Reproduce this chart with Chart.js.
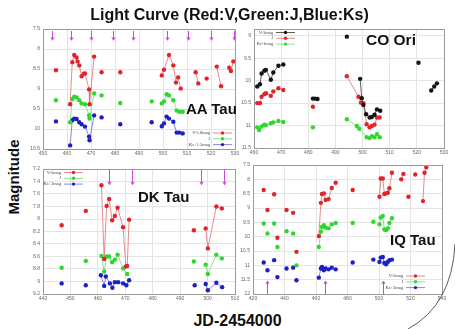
<!DOCTYPE html>
<html>
<head>
<meta charset="utf-8">
<script src="https://cdn.jsdelivr.net/npm/chart.js@4.4.1/dist/chart.umd.min.js"></script>
<style>
  body { margin: 0; background: #fff; width: 455px; height: 329px; overflow: hidden; position: relative;
         font-family: "Liberation Sans", Arial, sans-serif; }
  canvas { position: absolute; }
  .lbl { position: absolute; font-weight: bold; color: #111; white-space: nowrap; z-index: 2; }
</style>
</head>
<body>
<div class="lbl" style="left:2px;width:455px;top:6px;text-align:center;font-size:16px">Light Curve (Red:V,Green:J,Blue:Ks)</div>
<div class="lbl" style="left:13px;top:177px;font-size:15px;transform:translate(-50%,-50%) rotate(-90deg)">Magnitude</div>
<div class="lbl" style="left:0;width:475px;top:312px;text-align:center;font-size:16px">JD-2454000</div>
<div class="lbl" style="left:186px;top:100px;font-size:15px">AA Tau</div>
<div class="lbl" style="left:366px;top:31px;font-size:15.5px">CO Ori</div>
<div class="lbl" style="left:138px;top:188px;font-size:15px">DK Tau</div>
<div class="lbl" style="left:390px;top:231px;font-size:15px">IQ Tau</div>
<svg width="455" height="329" style="position:absolute;left:0;top:0;pointer-events:none;z-index:2">
  <path d="M 455 244 Q 452 305 408 329" fill="none" stroke="#333" stroke-width="0.8"/>
</svg>
<script>
// ---- AA Tau ----
const aaDaysV = [455.4, 461.3, 462.2, 463.0, 464.0, 464.4, 465.1, 466.1, 467.0, 467.5, 469.2, 469.4, 471.3, 474.4, 482.2,
                 499.5, 500.4, 502.5, 504.3, 505.4, 506.3, 507.4, 513.6, 514.7, 518.2, 522.4, 524.2, 527.6, 528.3, 529.3];
const aaV = [8.53, 9.38, 8.33, 8.15, 8.21, 8.31, 8.41, 8.68, 8.62, 8.61, 9.01, 9.38, 8.19, 8.58, 8.58,
             8.66, 8.52, 8.15, 8.41, 8.84, 8.71, 8.99, 8.58, 8.86, 8.74, 8.44, 8.93, 8.47, 8.55, 8.31];
const aaDaysJK = [455.4, 461.3, 462.2, 463.0, 464.0, 465.1, 466.1, 467.5, 469.2, 469.4, 471.3, 474.4, 482.2,
                  495.3, 499.5, 500.4, 501.5, 502.5, 504.3, 505.7, 506.8, 508.2];
const aaJ = [9.28, 9.83, 9.25, 9.19, 9.21, 9.28, 9.36, 9.38, 9.66, 9.74, 9.11, 9.16, 9.35,
             9.31, 9.36, 9.31, 9.13, 9.16, 9.28, 9.54, 9.57, 9.57];
const aaK = [9.81, 10.41, 9.78, 9.74, 9.75, 9.83, 9.88, 9.94, 10.19, 10.28, 9.66, 9.71, 9.88,
             9.83, 9.93, 9.86, 9.69, 9.74, 9.82, 10.09, 10.09, 10.11];
const aaArrows = [453.6, 461.8, 470.1, 479.0, 487.7, 501.5, 510.4, 519.9, 529.6];
const aaNames = ['V-1.8mag', 'J', 'Ks+1.5mag'];

// ---- CO Ori ----
const coDaysV = [461.2, 462.2, 462.8, 463.8, 464.4, 466.2, 467.1, 469.0, 470.8, 481.7, 482.5, 483.4, 494.2,
                 499.1, 499.7, 500.3, 501.3, 502.6, 503.4, 504.4, 505.3, 506.5, 520.6, 525.3, 526.4, 527.4];
const coV = [10.13, 10.08, 9.84, 9.78, 9.76, 9.98, 9.82, 9.67, 9.64, 10.40, 10.40, 10.41, 9.02,
             9.96, 10.39, 10.54, 10.75, 10.82, 10.81, 10.76, 10.64, 10.67, 9.60, 10.22, 10.13, 10.06];
const coDaysJ = [461.2, 462.2, 462.8, 463.8, 464.4, 466.2, 467.1, 469.0, 470.8, 481.7, 494.2,
                 498.5, 499.4, 500.3, 501.5, 502.6, 503.4, 504.4, 505.3, 506.3];
const coJ = [10.50, 10.50, 10.36, 10.30, 10.28, 10.34, 10.24, 10.17, 10.21, 10.58, 9.90,
             10.36, 10.49, 10.50, 10.97, 11.04, 11.01, 10.98, 10.82, 10.82];
const coDaysK = [461.2, 461.9, 462.8, 463.8, 464.4, 466.2, 467.1, 469.0, 470.8, 481.7, 494.2,
                 497.9, 498.8, 501.5, 502.6, 503.4, 504.4, 505.3, 506.3];
const coK = [11.04, 11.10, 11.02, 10.98, 10.99, 10.95, 10.93, 10.90, 10.92, 11.04, 10.86,
             11.01, 11.07, 11.26, 11.28, 11.24, 11.26, 11.19, 11.26];
const coYTicks = [9, 9.5, 10, 10.5, 11, 11.5];
const coNames = ['V-3mag', 'J', 'Ks-1mag'];

// ---- DK Tau ----
const dkDaysV = [446.8, 455.6, 461.3, 462.3, 463.2, 464.1, 465.2, 466.2, 467.2, 469.2, 470.2, 470.7, 471.4,
                 495.0, 499.3, 500.1, 503.2, 505.2];
const dkV = [8.10, 7.87, 7.46, 8.64, 7.79, 7.68, 8.02, 7.95, 7.82, 8.13, 8.76, 8.75, 8.01,
             8.18, 8.15, 8.47, 7.80, 7.83];
const dkDaysJ = [446.8, 455.6, 461.3, 462.3, 463.2, 464.1, 465.2, 466.2, 467.2, 469.2, 470.7,
                 495.0, 499.3, 500.1, 503.2, 505.2];
const dkJ = [8.78, 8.67, 8.59, 8.84, 8.60, 8.60, 8.69, 8.65, 8.57, 8.79, 8.88,
             8.68, 8.73, 8.88, 8.57, 8.63];
const dkDaysK = [446.8, 455.6, 461.1, 462.3, 462.9, 464.4, 465.3, 466.2, 467.4, 469.2, 470.4, 471.4,
                 495.3, 499.3, 500.1, 503.2, 505.3];
const dkK = [9.03, 9.06, 8.90, 9.07, 8.92, 9.03, 9.10, 9.01, 9.01, 9.03, 9.06, 8.98,
             9.06, 9.04, 9.14, 9.02, 9.09];
const dkArrows = [464.0, 472.5, 497.5, 506.0];
const dkNames = ['V-5mag', 'J', 'Ks+3mag'];

// ---- IQ Tau ----
const iqDaysV = [426.8, 429.2, 433.4, 435.5, 441.3, 445.5, 447.6, 461.8, 463.1, 463.8, 465.0, 466.1, 468.0, 470.0, 472.5,
                 483.3, 500.3, 501.1, 502.4, 503.4, 504.5, 505.6, 506.6, 508.2, 514.1, 515.5, 518.7, 523.0, 527.9, 528.9, 530.0];
const iqV = [8.37, 9.07, 8.52, 10.04, 9.07, 9.17, 10.53, 9.98, 8.82, 8.51, 8.49, 8.72, 8.69, 8.30, 8.12,
             8.37, 8.61, 7.97, 7.97, 8.51, 8.49, 8.47, 8.31, 7.77, 8.00, 7.81, 8.61, 7.83, 8.76, 7.77, 7.58];
const iqDaysJK = [426.8, 429.2, 433.4, 435.5, 441.3, 445.5, 447.6, 461.8, 463.1, 463.8, 465.0, 466.1, 468.0, 470.0, 472.5,
                  483.3, 496.4, 500.3, 501.1, 502.4, 503.4, 504.5, 505.6, 506.6, 508.2];
const iqJ = [9.54, 9.89, 9.54, 10.36, 9.81, 9.89, 11.0, 10.36, 9.83, 9.66, 9.60, 9.68, 9.71, 9.57, 9.52,
             9.52, 9.48, 9.57, 9.33, 9.28, 9.75, 9.77, 9.71, 9.52, 9.36];
const iqK = [10.90, 11.17, 10.82, 11.41, 11.11, 11.08, 11.52, 11.43, 11.11, 11.06, 11.17, 11.11, 11.14, 11.08, 11.14,
             10.90, 10.80, 10.88, 10.73, 10.71, 10.92, 10.96, 10.88, 10.82, 10.80];
const iqArrows = [428.7, 465.7, 502.7];
const iqNames = ['V-5mag', 'J', 'Ks+3mag'];

const RED = '#e3232b', GREEN = '#2ed82e', BLUE = '#1d20c6', BLACK = '#141414';
const RED_LINE = '#e07070', GREEN_LINE = '#70dd70', BLUE_LINE = '#6668d8', BLACK_LINE = '#333';
const ARROW = '#cc45d8';

function pts(days, mags) {
    return days.map((d, i) => ({ x: d, y: mags[i] }));
}

// consecutive points closer than `gap` days get joined, like one night's run
function series(label, days, mags, color, lineColor, gap) {
    return {
        label: label,
        data: pts(days, mags),
        showLine: true,
        borderColor: lineColor,
        backgroundColor: color,
        borderWidth: 0.8,
        pointRadius: 2.2,
        pointHoverRadius: 2.2,
        pointBorderWidth: 0,
        segment: {
            borderColor: c => (c.p1.parsed.x - c.p0.parsed.x > gap ? 'rgba(0,0,0,0)' : undefined)
        }
    };
}

const framePlugin = {
    id: 'frame',
    afterDraw(chart) {
        const a = chart.chartArea, ctx = chart.ctx;
        ctx.save();
        ctx.strokeStyle = '#9a9a9a';
        ctx.lineWidth = 1;
        ctx.strokeRect(Math.round(a.left) + 0.5, Math.round(a.top) + 0.5,
                       Math.round(a.right - a.left), Math.round(a.bottom - a.top));
        ctx.restore();
    }
};

const arrowPlugin = {
    id: 'arrows',
    afterDatasetsDraw(chart, args, opts) {
        if (!opts.days) return;
        const ctx = chart.ctx, x = chart.scales.x, y = chart.scales.y;
        ctx.save();
        ctx.strokeStyle = ARROW;
        ctx.lineWidth = 1;
        opts.days.forEach(d => {
            const px = Math.round(x.getPixelForValue(d)) + 0.5;
            const y0 = y.getPixelForValue(opts.from), y1 = y.getPixelForValue(opts.to);
            const dir = Math.sign(y1 - y0);
            ctx.beginPath();
            ctx.moveTo(px, y0);
            ctx.lineTo(px, y1);
            ctx.moveTo(px - 1.6, y1 - dir * 3);
            ctx.lineTo(px, y1);
            ctx.lineTo(px + 1.6, y1 - dir * 3);
            ctx.stroke();
        });
        ctx.restore();
    }
};

const keyPlugin = {
    id: 'key',
    afterDraw(chart, args, opts) {
        const ctx = chart.ctx, a = chart.chartArea;
        const tx = a.left + opts.dx;
        ctx.save();
        ctx.font = '4.5px "Liberation Serif", serif';
        ctx.textAlign = 'right';
        ctx.textBaseline = 'middle';
        chart.data.datasets.forEach((ds, i) => {
            const ty = a.top + opts.dy + i * 5.8;
            ctx.fillStyle = '#444';
            ctx.fillText(ds.label, tx, ty);
            ctx.strokeStyle = ds.borderColor;
            ctx.lineWidth = 0.8;
            ctx.beginPath();
            ctx.moveTo(tx + 3, ty);
            ctx.lineTo(tx + 22, ty);
            ctx.stroke();
            ctx.fillStyle = ds.backgroundColor;
            ctx.beginPath();
            ctx.arc(tx + 12.5, ty, 1.7, 0, Math.PI * 2);
            ctx.fill();
        });
        ctx.restore();
    }
};

const fmt = v => String(+v.toFixed(2));

function makePanel(box, xr, yr, datasets, arrows, key) {
    const yw = 20, pt = 6, pr = 4, xh = 12;
    const cv = document.createElement('canvas');
    cv.width = (box.r - box.l) + yw + pr;
    cv.height = (box.b - box.t) + pt + xh;
    cv.style.left = (box.l - yw) + 'px';
    cv.style.top = (box.t - pt) + 'px';
    document.body.appendChild(cv);

    const tickFont = { size: 5, family: '"Liberation Sans", Arial, sans-serif' };
    return new Chart(cv, {
        type: 'scatter',
        data: { datasets: datasets },
        options: {
            responsive: false,
            animation: false,
            layout: { padding: { top: pt, right: pr, left: 0, bottom: 0 } },
            scales: {
                x: {
                    type: 'linear', min: xr[0], max: xr[1],
                    ticks: { stepSize: xr[2], font: tickFont, color: '#666', padding: 2, maxRotation: 0, autoSkip: false },
                    grid: { color: '#e4e4e4', drawTicks: false },
                    border: { display: false },
                    afterFit: s => { s.height = xh; s.paddingLeft = 0; s.paddingRight = 0; }
                },
                y: {
                    type: 'linear', reverse: true, min: yr[0], max: yr[1],
                    ticks: { stepSize: yr[2], font: tickFont, color: '#666', padding: 3, callback: fmt, autoSkip: false },
                    grid: { color: '#e4e4e4', drawTicks: false },
                    border: { display: false },
                    afterBuildTicks: yr[3] ? (s => { s.ticks = yr[3].map(v => ({ value: v })); }) : undefined,
                    afterFit: s => { s.width = yw; s.paddingTop = 0; s.paddingBottom = 0; }
                }
            },
            plugins: {
                legend: { display: false },
                tooltip: { enabled: false },
                arrows: arrows,
                key: key
            }
        },
        plugins: [framePlugin, arrowPlugin, keyPlugin]
    });
}

makePanel({ l: 43, t: 29, r: 235, b: 149 }, [450, 530, 10], [7.5, 10.5, 0.5], [
    series(aaNames[0], aaDaysV, aaV, RED, RED_LINE, 2.5),
    series(aaNames[1], aaDaysJK, aaJ, GREEN, GREEN_LINE, 2.5),
    series(aaNames[2], aaDaysJK, aaK, BLUE, BLUE_LINE, 2.5)
], { days: aaArrows, from: 7.55, to: 7.78 }, { dx: 167, dy: 104 });

makePanel({ l: 254, t: 29, r: 444, b: 148 }, [460, 530, 10], [8.85, 11.5, 0.5, coYTicks], [
    series(coNames[0], coDaysV, coV, BLACK, BLACK_LINE, 4.5),
    series(coNames[1], coDaysJ, coJ, RED, RED_LINE, 4.5),
    series(coNames[2], coDaysK, coK, GREEN, GREEN_LINE, 4.5)
], {}, { dx: 19, dy: 3.5 });

makePanel({ l: 43, t: 169, r: 235, b: 294 }, [440, 510, 10], [7.2, 9.2, 0.2], [
    series(dkNames[0], dkDaysV, dkV, RED, RED_LINE, 3.5),
    series(dkNames[1], dkDaysJ, dkJ, GREEN, GREEN_LINE, 3.5),
    series(dkNames[2], dkDaysK, dkK, BLUE, BLUE_LINE, 3.5)
], { days: dkArrows, from: 7.2, to: 7.45 }, { dx: 18, dy: 3.5 });

makePanel({ l: 253, t: 165, r: 442, b: 294 }, [420, 540, 20], [7.5, 12, 0.5], [
    series(iqNames[0], iqDaysV, iqV, RED, RED_LINE, 2.0),
    series(iqNames[1], iqDaysJK, iqJ, GREEN, GREEN_LINE, 2.0),
    series(iqNames[2], iqDaysJK, iqK, BLUE, BLUE_LINE, 2.0)
], { days: iqArrows, from: 12, to: 11.55 }, { dx: 150, dy: 111 });
</script>
</body>
</html>
